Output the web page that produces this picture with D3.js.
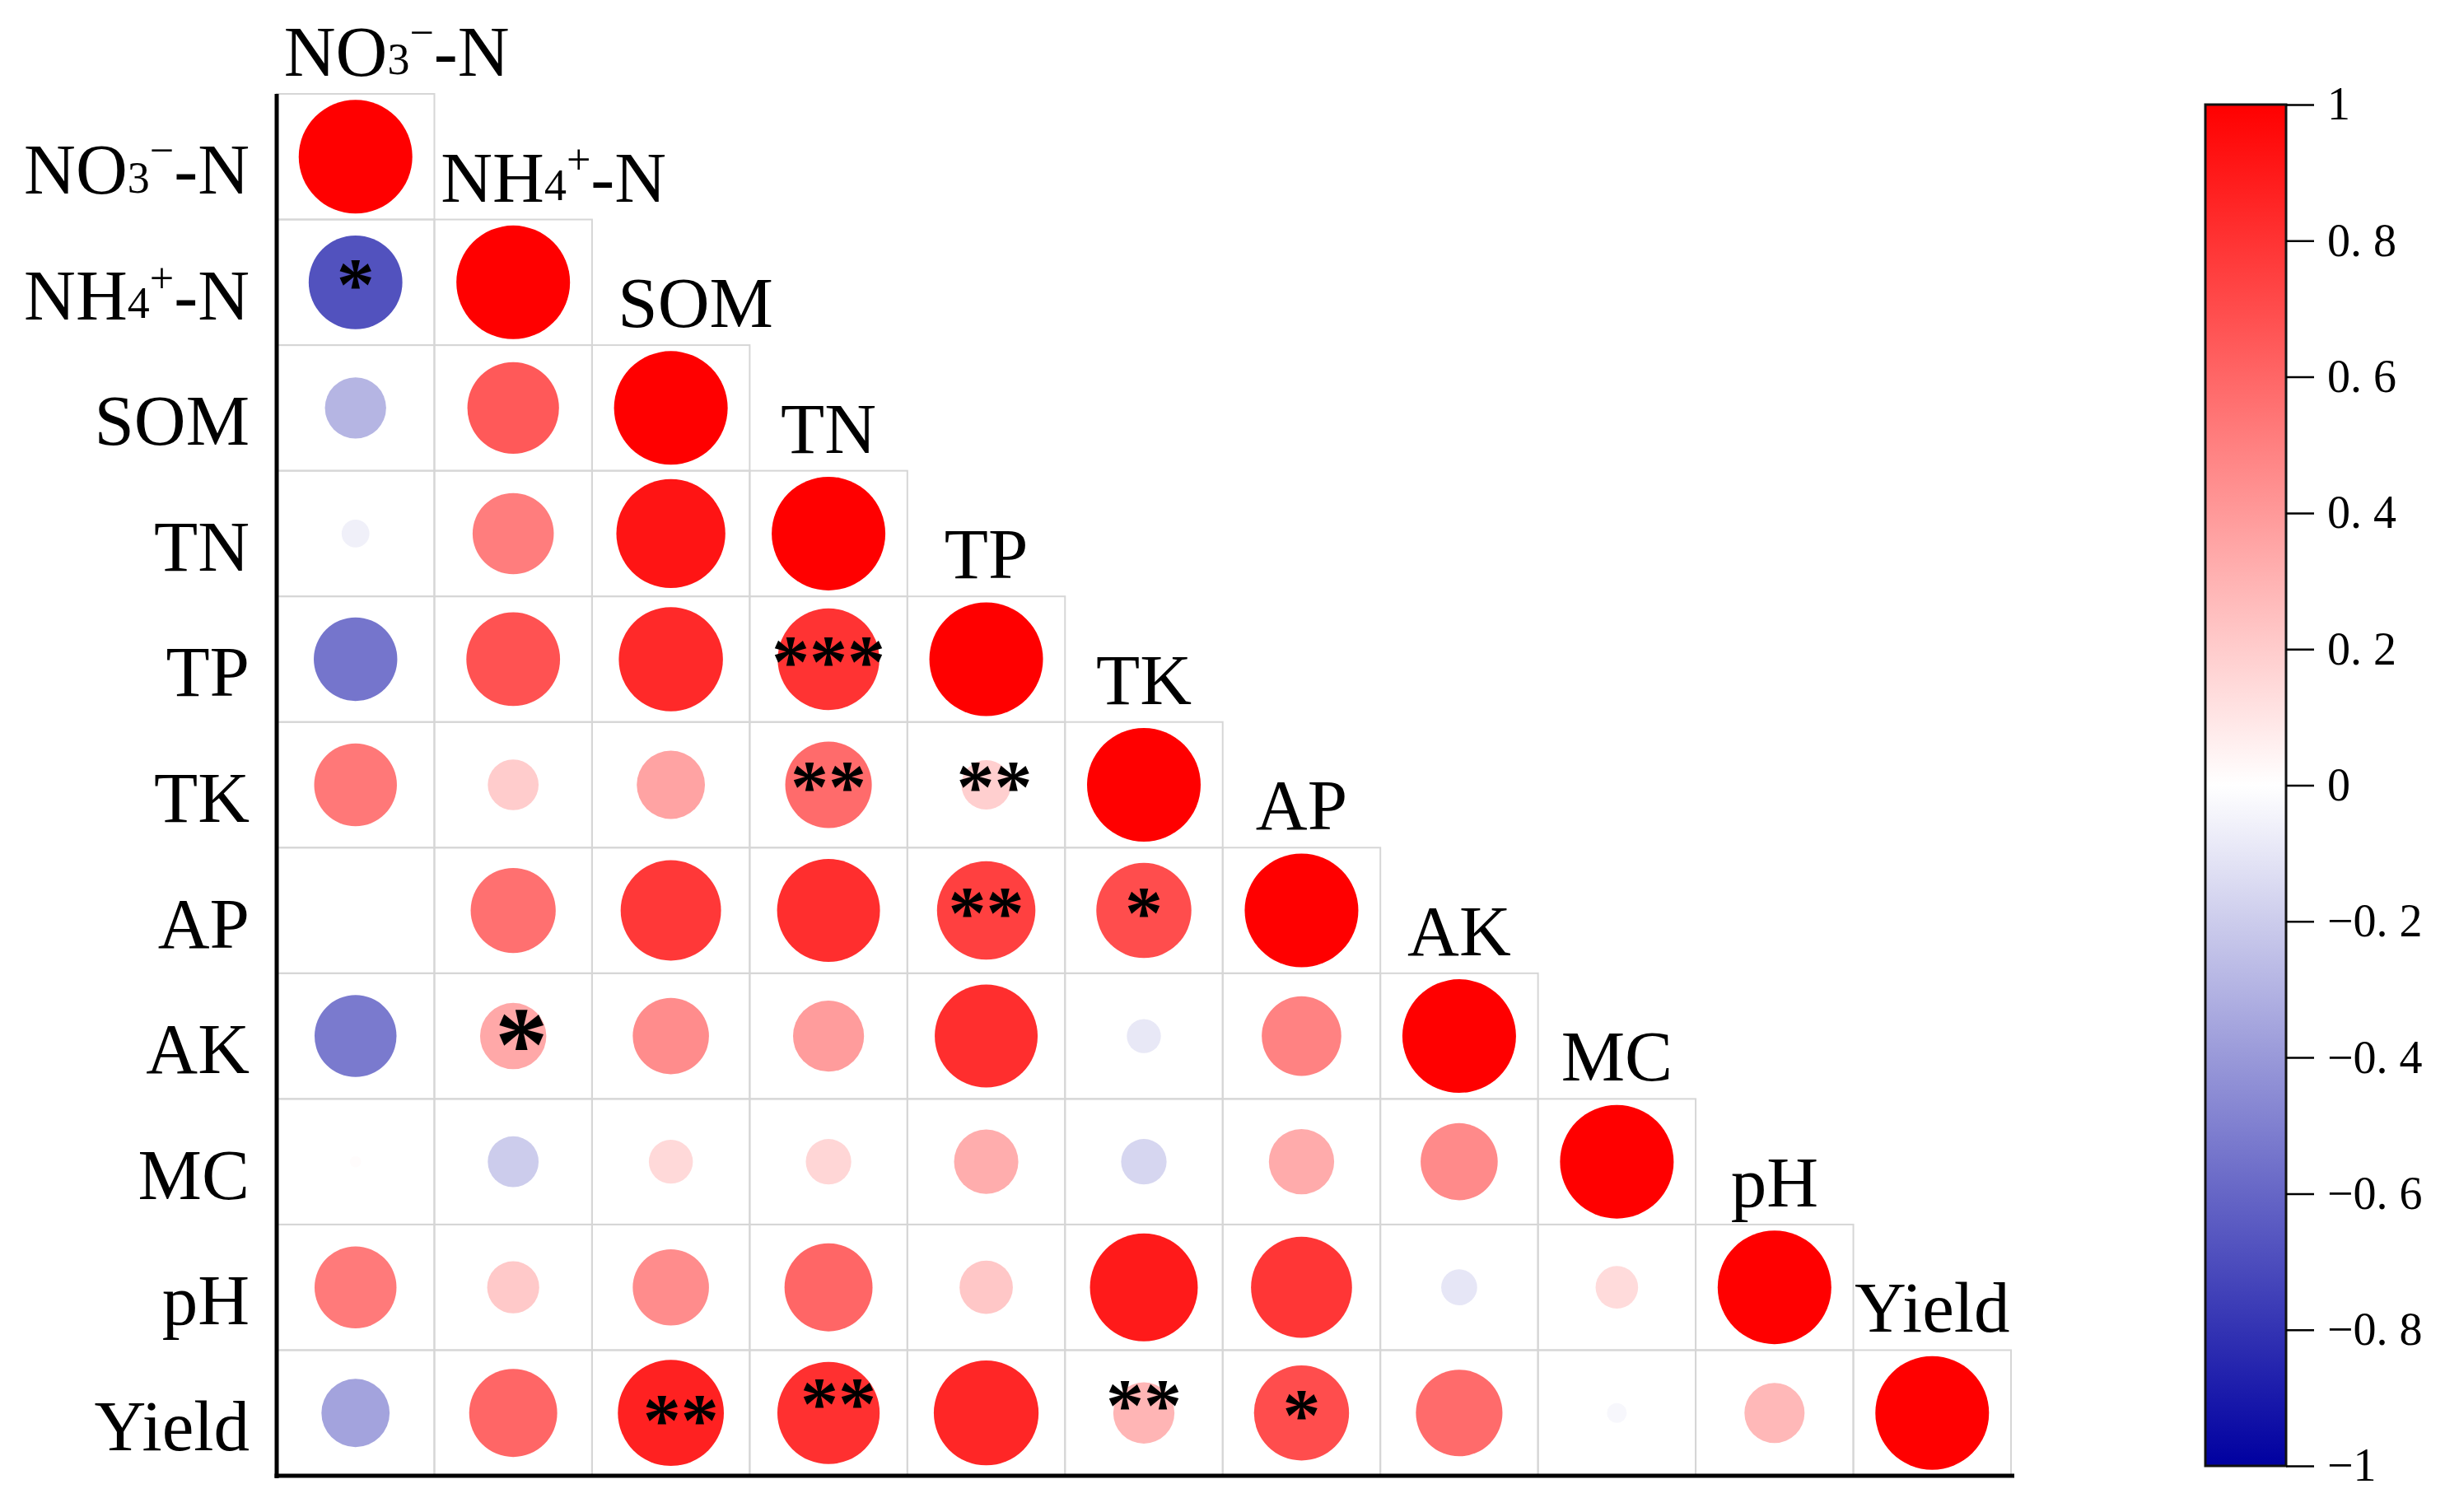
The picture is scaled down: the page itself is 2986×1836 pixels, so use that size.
<!DOCTYPE html>
<html><head><meta charset="utf-8">
<script src="https://cdn.jsdelivr.net/npm/d3@7"></script>
<style>body{margin:0;background:#fff} svg{display:block}</style>
</head><body>
<svg id="chart" width="2986" height="1836"></svg>
<script>
// ---------- data ----------
const variables = ["NO3-N","NH4-N","SOM","TN","TP","TK","AP","AK","MC","pH","Yield"];
// lower-triangle correlation rows (row i has i+1 values, columns in variable order)
const corrRows = [
  [1],
  [-0.68, 1],
  [-0.29, 0.65, 1],
  [-0.06, 0.51, 0.92, 1],
  [-0.54, 0.68, 0.84, 0.80, 1],
  [0.53, 0.20, 0.36, 0.58, 0.19, 1],
  [0.00, 0.56, 0.78, 0.82, 0.75, 0.70, 1],
  [-0.52, 0.34, 0.45, 0.39, 0.82, -0.09, 0.49, 1],
  [0.01, -0.20, 0.15, 0.16, 0.32, -0.16, 0.33, 0.46, 1],
  [0.52, 0.21, 0.45, 0.60, 0.22, 0.90, 0.79, -0.10, 0.14, 1],
  [-0.36, 0.60, 0.87, 0.81, 0.85, 0.29, 0.70, 0.58, -0.03, 0.28, 1]
];
// significance marks: [row variable, column variable, mark]
const significance = [
  ["NH4-N","NO3-N","*"],
  ["TP","TN","***"],
  ["TK","TN","**"],
  ["TK","TP","**"],
  ["AP","TP","**"],
  ["AP","TK","*"],
  ["AK","NH4-N","*"],
  ["Yield","SOM","**"],
  ["Yield","TN","**"],
  ["Yield","TK","**"],
  ["Yield","AP","*"]
];
const colorbarTicks = [-1,-0.8,-0.6,-0.4,-0.2,0,0.2,0.4,0.6,0.8,1];

// ---------- styles ----------
const labelParts = {
  "NO3-N": [{t:"NO"},{t:"3",s:0.62,rise:0.02},{t:"\u2212",s:0.6,rise:0.4},{t:"-N"}],
  "NH4-N": [{t:"NH"},{t:"4",s:0.62,rise:0.02},{t:"+",s:0.6,rise:0.38},{t:"-N"}]
};
const topLabelShift = {"NO3-N":50,"NH4-N":49,"SOM":30};
const sigStyle = {"AK|NH4-N":{size:1.4,dx:10,dy:8}, "TK|TP":{dx:10}, "Yield|SOM":{dx:12,dy:6}, "Yield|TN":{dx:12,dy:-14}, "Yield|TK":{dy:-12}};
const FONT = "'Liberation Serif','Times New Roman',serif";
const LABEL_SIZE = 87;
const SIG_SIZE = 92;

const svg = d3.select("#chart");
svg.append("rect").attr("width",2986).attr("height",1836).attr("fill","#fff");

const x = d3.scaleBand().domain(variables).range([336, 2442]);
const y = d3.scaleBand().domain(variables).range([114, 1792]);
const radius = d3.scaleSqrt().domain([0,1]).range([0, 69]);
const color = d3.scaleLinear().domain([-1,0,1]).range(["#0000a0","#ffffff","#ff0000"]);

const cells = [];
corrRows.forEach((row,i)=>row.forEach((v,j)=>cells.push({r:variables[i],c:variables[j],v})));

const g = svg.append("g");
g.selectAll("rect.cell").data(cells).join("rect")
  .attr("class","cell")
  .attr("x",d=>x(d.c)).attr("y",d=>y(d.r))
  .attr("width",x.bandwidth()).attr("height",y.bandwidth())
  .attr("fill","none").attr("stroke","#d6d6d6").attr("stroke-width",2);

g.selectAll("circle").data(cells).join("circle")
  .attr("cx",d=>x(d.c)+x.bandwidth()/2)
  .attr("cy",d=>y(d.r)+y.bandwidth()/2)
  .attr("r",d=>radius(Math.abs(d.v)))
  .attr("fill",d=>color(d.v));

// significance
const st = d => sigStyle[d[0]+"|"+d[1]] || {};
g.selectAll("text.sig").data(significance).join("text")
  .attr("class","sig")
  .attr("x",d=>x(d[1])+x.bandwidth()/2+(st(d).dx||0))
  .attr("y",d=>y(d[0])+y.bandwidth()/2+SIG_SIZE*(st(d).size||1)*0.36+(st(d).dy||0))
  .attr("text-anchor","middle")
  .attr("font-family",FONT).attr("font-weight","bold")
  .attr("font-size",d=>SIG_SIZE*(st(d).size||1))
  .attr("letter-spacing",0)
  .attr("fill","#000")
  .text(d=>d[2]);

function writeLabel(sel, name){
  const parts = labelParts[name] || [{t:name}];
  let cur = 0;
  parts.forEach(p=>{
    const size = (p.s||1)*LABEL_SIZE;
    const target = -(p.rise||0)*LABEL_SIZE;
    sel.append("tspan").attr("font-size",size).attr("dy",target-cur).text(p.t);
    cur = target;
  });
}

// row labels
variables.forEach(v=>{
  const t = svg.append("text")
    .attr("x",303).attr("y",y(v)+y.bandwidth()/2+45)
    .attr("text-anchor","end").attr("font-family",FONT).attr("font-size",LABEL_SIZE).attr("fill","#000");
  writeLabel(t,v);
});
// column labels above diagonal
variables.forEach(v=>{
  const t = svg.append("text")
    .attr("x",x(v)+x.bandwidth()/2+(topLabelShift[v]||0)).attr("y",y(v)-22)
    .attr("text-anchor","middle").attr("font-family",FONT).attr("font-size",LABEL_SIZE).attr("fill","#000");
  writeLabel(t,v);
});

// axes lines
svg.append("line").attr("x1",336).attr("x2",336).attr("y1",114).attr("y2",1795)
  .attr("stroke","#000").attr("stroke-width",5);
svg.append("line").attr("x1",333.5).attr("x2",2446).attr("y1",1792).attr("y2",1792)
  .attr("stroke","#000").attr("stroke-width",5);

// ---------- colorbar ----------
const cbX = 2678, cbW = 98;
const cbScale = d3.scaleLinear().domain([-1,1]).range([1780,127]);
const defs = svg.append("defs");
const grad = defs.append("linearGradient").attr("id","cbgrad")
  .attr("x1",0).attr("y1",1).attr("x2",0).attr("y2",0);
d3.range(0,1.0001,0.05).forEach(t=>{
  grad.append("stop").attr("offset",t).attr("stop-color",color(-1+2*t));
});
svg.append("rect").attr("x",cbX).attr("y",cbScale(1)).attr("width",cbW)
  .attr("height",cbScale(-1)-cbScale(1)).attr("fill","url(#cbgrad)")
  .attr("stroke","#111").attr("stroke-width",3);

const fmt = v => {
  if (v===0) return "0";
  const s = v<0 ? "\u2212" : "";
  const a = Math.abs(v);
  return a===1 ? s+"1" : s+"0. "+Math.round(a*10);
};
const cbAxis = svg.append("g").attr("transform",`translate(${cbX+cbW},0)`)
  .call(d3.axisRight(cbScale).tickValues(colorbarTicks).tickSize(34).tickPadding(16).tickFormat(fmt));
cbAxis.select(".domain").remove();
cbAxis.selectAll(".tick line").attr("stroke","#000").attr("stroke-width",2.5);
cbAxis.selectAll(".tick text").attr("font-family",FONT).attr("font-size",56).attr("fill","#000");
</script>
</body></html>
